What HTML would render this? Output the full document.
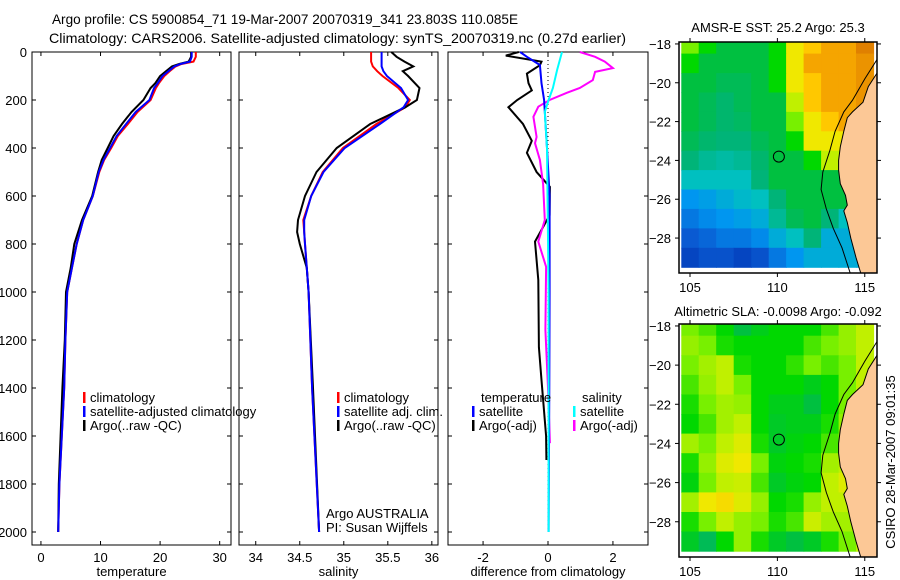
<!DOCTYPE html>
<html><head><meta charset="utf-8"><style>
body{margin:0;background:#fff;}
svg{display:block;font-family:"Liberation Sans",sans-serif;}
text{fill:#000;}
</style></head><body>
<svg id="fig" width="900" height="580" viewBox="0 0 900 580" xmlns="http://www.w3.org/2000/svg">
<rect x="0" y="0" width="900" height="580" fill="#fff"/>
<text x="52" y="24" font-size="14" textLength="466" lengthAdjust="spacingAndGlyphs">Argo profile: CS 5900854_71 19-Mar-2007 20070319_341 23.803S 110.085E</text>
<text x="49" y="43" font-size="14" textLength="577" lengthAdjust="spacingAndGlyphs">Climatology: CARS2006. Satellite-adjusted climatology: synTS_20070319.nc (0.27d earlier)</text>
<g id="g1"></g>
</svg>
<script>
// ---------- data ----------
const depthT = [0,20,40,50,60,80,100,130,150,200,250,300,350,400,450,500,600,700,800,900,1000,1200,1400,1600,1800,2000];
const tempClim = [26.0,26.0,25.6,23.6,22.6,21.6,20.7,19.8,19.3,18.4,16.2,14.6,12.9,11.8,10.6,9.8,8.7,7.1,6.0,5.2,4.4,4.1,3.9,3.5,3.1,2.9];
const tempSat  = [25.3,25.3,25.0,23.4,22.4,21.4,20.4,19.6,19.0,18.2,15.9,14.3,12.7,11.6,10.5,9.7,8.7,7.1,6.0,5.2,4.4,4.1,3.9,3.5,3.1,2.9];
const tempArgo = [25.2,25.2,24.8,23.2,22.0,21.0,20.0,19.2,18.4,17.2,15.2,13.6,12.2,11.2,10.2,9.6,8.6,6.9,5.6,5.0,4.2,4.0,3.6,3.3,3.0,2.9];

const depthS = [0,20,40,60,80,100,150,200,230,300,400,500,600,700,750,800,900,1000,1400,2000];
const salClim = [35.31,35.31,35.31,35.33,35.38,35.44,35.62,35.75,35.7,35.37,34.99,34.76,34.63,34.54,34.55,34.56,34.58,34.6,34.64,34.72];
const salSat  = [35.43,35.43,35.43,35.43,35.45,35.49,35.65,35.73,35.68,35.41,35.01,34.77,34.63,34.55,34.55,34.56,34.58,34.6,34.64,34.72];
const salArgo = [35.54,35.6,35.69,35.79,35.67,35.73,35.86,35.83,35.7,35.3,34.92,34.69,34.56,34.48,34.47,34.5,34.58,34.6,34.65,34.72];

const depthDT = [0,15,40,55,90,130,160,200,230,300,370,420,500,562,680,790,950,1230,1367,1600,1700];
const dTempArgo = [-0.9,-1.3,-0.2,-0.25,-0.65,-0.6,-0.5,-0.95,-1.22,-0.77,-0.5,-0.65,-0.35,0.06,0.05,-0.4,-0.3,-0.28,-0.2,-0.06,-0.05];
const depthDTS = [0,20,54,130,200,400,600,1000,1400,2000];
const dTempSat = [-0.86,-0.65,-0.25,-0.2,-0.12,-0.03,0.05,0.05,0.04,0.02];
const depthDS = [0,20,40,67,83,117,150,170,200,228,270,354,380,450,550,700,790,895,1158,1400,1630];
const dSalArgo = [0.98,1.45,1.75,2.0,1.45,1.38,0.98,0.58,0.05,-0.3,-0.45,-0.35,-0.4,-0.25,-0.15,-0.1,-0.3,-0.06,-0.08,0.0,0.06];
const depthDSS = [0,75,150,200,250,400,1000,2000];
const dSalSat = [0.43,0.28,0.15,0.02,-0.1,-0.03,0.02,0.02];

const sstTicksX = [105,110,115];
const latTicks = [-18,-20,-22,-24,-26,-28];
const lonCenters = [105,106,107,108,109,110,111,112,113,114,115];
const latCenters = [-18,-19,-20,-21,-22,-23,-24,-25,-26,-27,-28,-29];
const sstGrid = [
[6,5.5,5,5,5,5.5,7,7.5,8,8,9],
[5.5,5,5,5,5,5.5,7,8,8,8,8.5],
[5,5,4.8,4.8,5,5.5,7,7.5,8,8,8.5],
[5,4.8,4.6,4.8,5,5,6.5,7.5,8,8,8.5],
[5,4.8,4.6,4.7,5,5,6,7,7.5,8,8],
[4.8,4.6,4.5,4.5,4.8,5,5.5,7,7,7,7],
[4.5,4.3,4.2,4.3,4.6,5,5,5.5,6.5,6.5,6],
[4,4,4,4,4.5,5,5,5,5,5,5],
[3,3.2,3.5,3.8,4,4.5,5,5,5,5,5],
[2.5,2.8,3,3.2,3.5,4.3,4.8,5,4.5,4,4],
[2,2.2,2.5,2.5,2.8,3.5,4,4.5,3.5,3.5,3.5],
[1.5,1.8,1.8,1.5,1.8,2.5,3,3.5,3.5,3.5,3.5]];
const slaGrid = [
[6,5.8,5.5,5,5.3,5.5,5.5,5.5,5.8,6.2,6.5],
[6.2,6,5.6,5.5,5.5,5.5,5.5,5.8,6,6.2,6.5],
[6,6.3,6.5,5.6,5.5,5.5,5.7,6,5.8,6,6.5],
[5.8,6.2,6.5,6,5.5,5.5,5.5,5.3,5.5,6,6.5],
[5.6,6,6.3,6.2,5.5,5.3,5.3,5,5.5,6,6.5],
[5.5,5.8,6.3,6.5,5.5,5.2,5.3,5.3,5.6,6.2,6.5],
[6.3,6,6.5,6.8,5.6,5.2,5.4,5.5,5.8,6.3,6.5],
[5.6,6.2,6.8,7,6,5.4,5.5,5.6,6.3,6.5,6.5],
[5.4,6,6.5,6.6,5.8,5.2,5.4,5.5,6.5,6.8,6.5],
[6.3,7,7.2,6.8,6.2,5.5,5.6,6.2,6.5,6.5,6.5],
[5.6,6,6.5,6.2,6,5.6,5.8,6.6,6.3,6.3,6.5],
[5.2,4.8,5.5,6.2,5.6,5.2,5,5.2,5.6,6,6.5]];
const land = [[115.7,-19.5],[115.2,-20.2],[114.9,-21.0],[114.3,-21.5],[114.0,-21.8],[113.8,-22.5],[113.6,-23.3],[113.5,-24.0],[113.5,-24.5],[113.6,-25.2],[113.9,-25.8],[114.0,-26.3],[113.8,-26.6],[114.0,-27.2],[114.2,-28.0],[114.5,-29.0],[114.8,-29.9],[115.7,-29.9]];
const contour = [[115.7,-18.8],[115.0,-19.8],[114.3,-20.9],[113.8,-21.5],[113.3,-22.5],[113.0,-23.5],[112.6,-24.6],[112.5,-25.5],[112.8,-26.5],[113.2,-27.5],[113.7,-28.5],[114.2,-29.9]];
const argoPos = [110.085,-23.803];

// ---------- helpers ----------
const NS='http://www.w3.org/2000/svg';
const root=document.getElementById('g1');
function mk(tag,attrs,parent){const e=document.createElementNS(NS,tag);for(const k in attrs)e.setAttribute(k,attrs[k]);(parent||root).appendChild(e);return e;}
function txt(s,x,y,size,anchor,parent){const t=mk('text',{x:x,y:y,'font-size':size,'text-anchor':anchor||'start'},parent);t.textContent=s;return t;}

const Y0=52, PY=0.24, PB=545, PT=52;
const yD=d=>Y0+d*PY;
const panels=[
 {name:'temperature',x0:32,x1:231,lo:-1.5,hi:31.9,ticks:[0,10,20,30],lab:'temperature'},
 {name:'salinity',x0:239,x1:438,lo:33.81,hi:36.07,ticks:[34,34.5,35,35.5,36],lab:'salinity'},
 {name:'difference',x0:448,x1:648,lo:-3.08,hi:3.08,ticks:[-2,0,2],lab:'difference from climatology'}];
panels.forEach(p=>{p.sx=v=>p.x0+(v-p.lo)/(p.hi-p.lo)*(p.x1-p.x0);});

function line(p,depths,vals,color,w,name){
  const pts=depths.map((d,i)=>p.sx(vals[i]).toFixed(1)+','+yD(d).toFixed(1)).join(' ');
  const e=mk('polyline',{points:pts,fill:'none',stroke:color,'stroke-width':w,'stroke-linejoin':'miter'});
  
  
}

panels.forEach((p,pi)=>{
  const g=mk('g',{});
  
  
  mk('rect',{x:p.x0,y:PT,width:p.x1-p.x0,height:PB-PT,fill:'#fff',stroke:'#000','stroke-width':1},g);
  for(let d=0;d<=2000;d+=200){
    const y=yD(d);
    mk('line',{x1:p.x0,y1:y,x2:p.x0+4,y2:y,stroke:'#000'},g);
    mk('line',{x1:p.x1-4,y1:y,x2:p.x1,y2:y,stroke:'#000'},g);
    if(pi===0){const t=txt(String(d),p.x0-5,y+5,13,'end',g);
      
      }
  }
  p.ticks.forEach(v=>{
    const x=p.sx(v);
    mk('line',{x1:x,y1:PT,x2:x,y2:PT+4,stroke:'#000'},g);
    mk('line',{x1:x,y1:PB-4,x2:x,y2:PB,stroke:'#000'},g);
    const t=txt(String(v),x,PB+17,13,'middle',g);
    
    
  });
  const xl=txt(p.lab,(p.x0+p.x1)/2,PB+31,13,'middle',g);
  
  
});

const P0=panels[0],P1=panels[1],P2=panels[2];
line(P0,depthT,tempClim,'#f00',2,'temp-climatology-line');
line(P0,depthT,tempArgo,'#000',2,'temp-argo-line');
line(P0,depthT,tempSat,'#00f',2,'temp-satellite-line');
line(P1,depthS,salClim,'#f00',2,'sal-climatology-line');
line(P1,depthS,salArgo,'#000',2,'sal-argo-line');
line(P1,depthS,salSat,'#00f',2,'sal-satellite-line');
const zl=mk('line',{x1:P2.sx(0),y1:PT,x2:P2.sx(0),y2:yD(2000),stroke:'#000','stroke-dasharray':'1,3'});


line(P2,depthDT,dTempArgo,'#000',2,'temp-argo-diff-line');
line(P2,depthDS,dSalArgo,'#f0f',2,'sal-argo-diff-line');
line(P2,depthDTS,dTempSat,'#00f',2,'temp-satellite-diff-line');
line(P2,depthDSS,dSalSat,'#0ff',2,'sal-satellite-diff-line');

function legend(x,y,color,label,name){
  const g=mk('g',{});
  
  
  if(color) mk('rect',{x:x,y:y-10,width:2.5,height:11,fill:color},g);
  txt(label,x+7,y,13,'start',g);
}
legend(83,402,'#f00','climatology','legend-climatology');
legend(83,416,'#00f','satellite-adjusted climatology','legend-satellite-adjusted');
legend(83,430,'#000','Argo(..raw -QC)','legend-argo');
legend(337,402,'#f00','climatology','legend-sal-climatology');
legend(337,416,'#00f','satellite adj. clim.','legend-sal-satellite');
legend(337,430,'#000','Argo(..raw -QC)','legend-sal-argo');
legend(474,402,null,'temperature','legend-temp-header');
legend(472,416,'#00f','satellite','legend-diff-temp-satellite');
legend(472,430,'#000','Argo(-adj)','legend-diff-temp-argo');
legend(575,402,null,'salinity','legend-sal-header');
legend(573,416,'#0ff','satellite','legend-diff-sal-satellite');
legend(573,430,'#f0f','Argo(-adj)','legend-diff-sal-argo');
const a1=txt('Argo AUSTRALIA',326,518,13,'start');


const a2=txt('PI: Susan Wijffels',326,532,13,'start');



// ---------- maps ----------
const stops=[[0,'#001a8c'],[1,'#0030b0'],[2,'#0a5ad2'],[3,'#0096f0'],[4,'#00c0c0'],[4.5,'#00b478'],[5,'#00c040'],[5.5,'#00d800'],[6,'#78f000'],[6.5,'#c0f000'],[7,'#f0e800'],[7.5,'#ffc800'],[8,'#f5a500'],[9,'#e08000'],[10,'#a04000']];
function hex(h){return [1,3,5].map(i=>parseInt(h.substr(i,2),16));}
function cmap(v){
  if(v<=stops[0][0])return stops[0][1];
  for(let i=1;i<stops.length;i++){if(v<=stops[i][0]){const a=stops[i-1],b=stops[i];const t=(v-a[0])/(b[0]-a[0]);const ca=hex(a[1]),cb=hex(b[1]);return 'rgb('+ca.map((c,k)=>Math.round(c+(cb[k]-c)*t)).join(',')+')';}}
  return stops[stops.length-1][1];
}
function drawMap(id,top,bottom,grid,title,titleY){
  const L=679,R=877,lonLo=104.37,lonHi=115.7,latTop=-17.9,latBot=-29.8;
  const sx=lon=>L+(lon-lonLo)/(lonHi-lonLo)*(R-L);
  const sy=lat=>top+(latTop-lat)/(latTop-latBot)*(bottom-top);
  const g=mk('g',{});
  
  
  const cp=mk('clipPath',{id:id+'-clip'},g);
  mk('rect',{x:L,y:top,width:R-L,height:bottom-top},cp);
  const inner=mk('g',{'clip-path':'url(#'+id+'-clip)'},g);
  latCenters.forEach((lat,r)=>lonCenters.forEach((lon,c)=>{
    const x=sx(lon-0.5),y=sy(lat+0.5);
    const cell=mk('rect',{x:x.toFixed(1),y:y.toFixed(1),width:(sx(lon+0.5)-x+0.6).toFixed(1),height:(sy(lat-0.5)-y+0.6).toFixed(1),fill:cmap(grid[r][c])},inner);
    
    
  }));
  const lp=mk('polygon',{points:land.map(p=>sx(p[0]).toFixed(1)+','+sy(p[1]).toFixed(1)).join(' '),fill:'#fcc896',stroke:'#000','stroke-width':1},inner);
  
  
  const cl=mk('polyline',{points:contour.map(p=>sx(p[0]).toFixed(1)+','+sy(p[1]).toFixed(1)).join(' '),fill:'none',stroke:'#000','stroke-width':1},inner);
  
  
  const c=mk('circle',{cx:sx(argoPos[0]),cy:sy(argoPos[1]),r:5.5,fill:'none',stroke:'#000','stroke-width':1},g);
  
  
  mk('rect',{x:L,y:top,width:R-L,height:bottom-top,fill:'none',stroke:'#000','stroke-width':1.5},g);
  sstTicksX.forEach(v=>{const x=sx(v);
    mk('line',{x1:x,y1:top-4,x2:x,y2:top,stroke:'#000'},g);
    mk('line',{x1:x,y1:bottom,x2:x,y2:bottom+4,stroke:'#000'},g);
    const t=txt(String(v),x,bottom+19,13,'middle',g);
    
    });
  latTicks.forEach(v=>{const y=sy(v);
    mk('line',{x1:L-4,y1:y,x2:L,y2:y,stroke:'#000'},g);
    mk('line',{x1:R,y1:y,x2:R+4,y2:y,stroke:'#000'},g);
    const t=txt(String(v).replace('-','\u2212'),L-8,y+5,13,'end',g);
    
    });
  const tt=txt(title,778,titleY,13,'middle',g);
  
  
}
drawMap('sst-map',42,273,sstGrid,'AMSR-E SST: 25.2 Argo: 25.3',32);
drawMap('sla-map',324,557,slaGrid,'Altimetric SLA: -0.0098 Argo: -0.092',316);
const cs=txt('CSIRO 28-Mar-2007 09:01:35',0,0,13,'middle');
cs.setAttribute('transform','translate(895,462) rotate(-90)');


</script>
</body></html>
